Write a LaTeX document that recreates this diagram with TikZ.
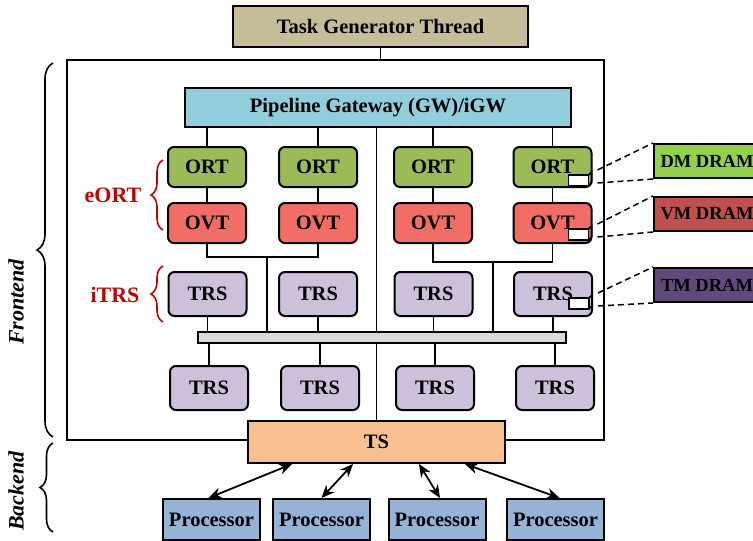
\documentclass[tikz,border=0pt]{standalone}
\usepackage{fontspec}
\setmainfont{Liberation Serif}
\usetikzlibrary{arrows.meta,calc,decorations.pathreplacing}

\definecolor{tgtc}{HTML}{C4BD97}
\definecolor{gwc}{HTML}{92CDDC}
\definecolor{ortc}{HTML}{9BBB59}
\definecolor{ovtc}{HTML}{F06E66}
\definecolor{trsc}{HTML}{CCC0DA}
\definecolor{busc}{HTML}{D9D9D9}
\definecolor{tsc}{HTML}{FAC090}
\definecolor{procc}{HTML}{95B3D7}
\definecolor{dmc}{HTML}{92D050}
\definecolor{vmc}{HTML}{C0504D}
\definecolor{tmc}{HTML}{604A7B}
\definecolor{redc}{HTML}{C00000}

\begin{document}
\begin{tikzpicture}[x=1pt,y=-1pt,
  every node/.style={font=\fontsize{20.5}{22}\selectfont\bfseries, inner sep=0pt},
  blk/.style={draw=black, line width=2pt},
  rbox/.style={blk, rounded corners=6pt, minimum width=78pt, minimum height=40pt},
  ortbox/.style={rbox, fill=ortc},
  ovtbox/.style={rbox, fill=ovtc},
  trsbox/.style={rbox, fill=trsc, minimum height=44pt},
  procbox/.style={blk, fill=procc, minimum width=97pt, minimum height=41pt},
  drambox/.style={blk, anchor=north west, minimum width=106pt, minimum height=34pt,
    font=\fontsize{18.5}{20}\selectfont\bfseries},
  wire/.style={line width=1.8pt},
  link/.style={line width=1.8pt, {Stealth[length=13pt,width=11pt]}-{Stealth[length=13pt,width=11pt]}},
  dashlink/.style={line width=1.5pt, dash pattern=on 6pt off 4pt},
  sidebrace/.style={decorate, line width=1.6pt},
  cachebox/.pic={
    \draw[line width=1.5pt, fill=white] (-24,-13) rectangle (-4,-2);
    \draw[line width=1.5pt] (-4,-13) -- (-1,-16) -- (-1,-5) -- (-4,-2);
    \coordinate (-top) at (5,-18);
    \coordinate (-bot) at (5,-5);
  }]

\useasboundingbox (0,0) rectangle (753,541);
\clip (0,0) rectangle (753,541);

% main blocks
\node[blk, fill=tgtc, minimum width=295pt, minimum height=41pt] (tgt) at (380.5,26.5) {Task Generator Thread};
\node[blk, minimum width=537pt, minimum height=380pt] (frame) at (335.5,250) {};
\node[blk, fill=gwc, minimum width=386pt, minimum height=39pt] (gw) at (378,107.5) {Pipeline Gateway (GW)/iGW};

% ORT / OVT pairs
\foreach \i/\x in {1/207,2/318,3/433,4/552.5}{
  \node[ortbox] (ort\i) at (\x,167) {ORT};
  \node[ovtbox] (ovt\i) at (\x,223) {OVT};
}
% TRS rows
\foreach \i/\x in {1/207.5,2/318,3/433.5,4/553}{
  \node[trsbox] (trsu\i) at (\x,294) {TRS};
}
\foreach \i/\x in {1/209,2/320,3/435,4/555}{
  \node[trsbox] (trsl\i) at (\x,388) {TRS};
}

\node[blk, fill=tsc, minimum width=257pt, minimum height=42pt] (ts) at (376.5,442) {TS};

\foreach \i/\x in {1/211.5,2/321.5,3/437,4/555.5}{
  \node[procbox] (p\i) at (\x,519.5) {Processor};
}

% wiring inside the frontend
\draw[wire] (tgt.south) -- (tgt.south |- frame.north);
\foreach \i in {1,...,4}{
  \draw[wire] (ort\i.north |- gw.south) -- (ort\i.north);
  \draw[wire] (ort\i.south) -- (ovt\i.north);
}
\draw[wire] (ts.north |- gw.south) -- (ts.north);

\coordinate (j1) at (267,257);
\coordinate (j2) at (493,262);
\draw[wire] (ovt1.south) |- (j1) -| (ovt2.south);
\draw[wire] (ovt3.south) |- (j2) -| (ovt4.south);

\node[draw=black, line width=1.6pt, fill=busc, minimum width=368pt, minimum height=11pt] (bus) at (382,337.5) {};

\draw[wire] (j1) -- (j1 |- bus.north);
\draw[wire] (j2) -- (j2 |- bus.north);
\foreach \i in {1,...,4}{
  \draw[wire] (trsu\i.south) -- (trsu\i.south |- bus.north);
  \draw[wire] (trsl\i.north |- bus.south) -- (trsl\i.north);
}

% processor links
\draw[link] ([xshift=-3pt]p1.north) -- ([xshift=-84.5pt]ts.south);
\draw[link] (p2.north) -- ([xshift=-23.5pt]ts.south);
\draw[link] ([xshift=3pt]p3.north) -- ([xshift=42.5pt]ts.south);
\draw[link] ([xshift=4pt]p4.north) -- ([xshift=88.5pt]ts.south);

% off-chip memories
\node[drambox, fill=dmc] (dm) at (653,143) {DM DRAM};
\node[drambox, fill=vmc] (vm) at (653,196) {VM DRAM};
\node[drambox, fill=tmc] (tm) at (653,267) {TM DRAM};

\pic (c1) at (ort4.south east) {cachebox};
\pic (c2) at ($(ovt4.south east)+(0,-2)$) {cachebox};
\pic (c3) at ($(trsu4.south east)+(0,-6)$) {cachebox};

\draw[dashlink] (c1-top) -- (dm.north west);
\draw[dashlink] (c1-bot) -- (dm.south west);
\draw[dashlink] (c2-top) -- (vm.north west);
\draw[dashlink] (c2-bot) -- (vm.south west);
\draw[dashlink] (c3-top) -- (tm.north west);
\draw[dashlink] (c3-bot) -- (tm.south west);

% group braces and labels
\draw[sidebrace, draw=redc, decoration={brace, amplitude=12pt}] (163,230) -- (163,160);
\draw[sidebrace, draw=redc, decoration={brace, amplitude=12pt}] (163,322) -- (163,266);
\node[text=redc, font=\fontsize{22}{24}\selectfont\bfseries] (leort) at (113,195) {eORT};
\node[text=redc, font=\fontsize{22}{24}\selectfont\bfseries] (litrs) at (115,295) {iTRS};

\draw[sidebrace, decoration={brace, amplitude=16pt}] (53,437) -- (53,63);
\draw[sidebrace, decoration={brace, amplitude=13pt}] (53,532) -- (53,443);
\node[rotate=90, font=\fontsize{22}{24}\selectfont\bfseries\itshape] (lfront) at (16,302) {Frontend};
\node[rotate=90, font=\fontsize{22}{24}\selectfont\bfseries\itshape] (lback) at (16,491) {Backend};

\end{tikzpicture}
\end{document}
